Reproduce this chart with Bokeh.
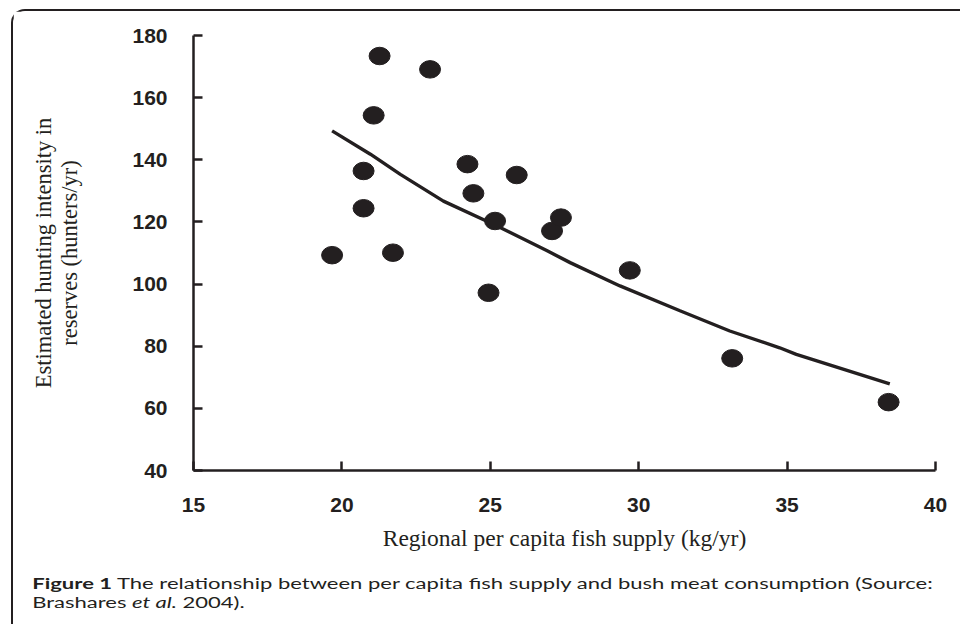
from bokeh.plotting import figure
from bokeh.models import FixedTicker, Div
from bokeh.layouts import column
from bokeh.embed import file_html
from bokeh.resources import INLINE

# Data
fish_supply = [19.67, 20.73, 20.73, 21.07, 21.27, 21.72, 22.97, 24.23, 24.43,
               24.94, 25.16, 25.89, 27.08, 27.38, 29.70, 33.15, 38.42]
hunting = [109.3, 136.4, 124.4, 154.3, 173.4, 110.1, 169.1, 138.6, 129.2,
           97.2, 120.3, 135.1, 117.1, 121.4, 104.4, 76.1, 62.0]
trend_x = [19.67, 20.96, 21.97, 23.42, 25.16, 26.90, 27.69, 29.37, 31.39,
           33.07, 34.75, 35.31, 38.46]
trend_y = [149.3, 141.8, 135.3, 126.7, 119.0, 110.8, 106.9, 99.4, 91.4,
           84.9, 79.5, 77.4, 67.9]
x_ticks = [15, 20, 25, 30, 35, 40]
y_ticks = [40, 60, 80, 100, 120, 140, 160, 180]

INK = "#231f20"

p = figure(width=947, height=548, output_backend="svg", toolbar_location=None,
           x_range=(15, 40), y_range=(40, 180),
           min_border_left=180, min_border_right=25,
           min_border_top=24, min_border_bottom=89)
p.outline_line_color = None
p.grid.grid_line_color = None
p.background_fill_color = "white"
p.border_fill_color = "white"

for ax, ticks in ((p.xaxis, x_ticks), (p.yaxis, y_ticks)):
    ax.ticker = FixedTicker(ticks=ticks)
    ax.axis_line_color = INK
    ax.axis_line_width = 2.5
    ax.major_tick_line_color = INK
    ax.major_tick_line_width = 2.5
    ax.major_tick_in = 9
    ax.major_tick_out = 0
    ax.minor_tick_line_color = None
    ax.major_label_text_font = "Liberation Sans"
    ax.major_label_text_font_style = "bold"
    ax.major_label_text_font_size = "21px"
    ax.major_label_text_color = INK
    ax.axis_label_text_font = "Liberation Serif"
    ax.axis_label_text_font_style = "normal"
    ax.axis_label_text_color = INK

p.xaxis.major_label_standoff = 27
p.yaxis.major_label_standoff = 26
p.xaxis.axis_label = "Regional per capita fish supply (kg/yr)"
p.yaxis.axis_label = "Estimated hunting intensity in\nreserves (hunters/yr)"
p.xaxis.axis_label_text_font_size = "23.5px"
p.yaxis.axis_label_text_font_size = "22.5px"
p.yaxis.axis_label_text_line_height = 1.05
p.xaxis.axis_label_standoff = 10
p.yaxis.axis_label_standoff = 47

p.line(trend_x, trend_y, line_color=INK, line_width=3.4)
p.ellipse(fish_supply, hunting, width=21, height=17.5,
          width_units="screen", height_units="screen",
          fill_color=INK, line_color=INK)

caption_html = (
    '<div style="font-family: Lato, sans-serif; font-size: 15.5px; '
    'line-height: 19px; color: #231f20; white-space: nowrap; '
    'padding-left: 10px; padding-top: 10px; '
    'transform: scaleX(1.42); transform-origin: 0 0;">'
    '<b>Figure 1</b> The relationship between per capita fish supply and bush '
    'meat consumption (Source:<br>Brashares <i>et al.</i> 2004).</div>'
)
caption = Div(text=caption_html, width=940, height=60)

page = column(p, caption, styles={
    "margin-left": "11px", "margin-top": "9px",
    "border-top": "2px solid #231f20", "border-left": "2px solid #231f20",
    "border-top-left-radius": "14px",
})

open("out.html", "w").write(file_html(page, INLINE))
